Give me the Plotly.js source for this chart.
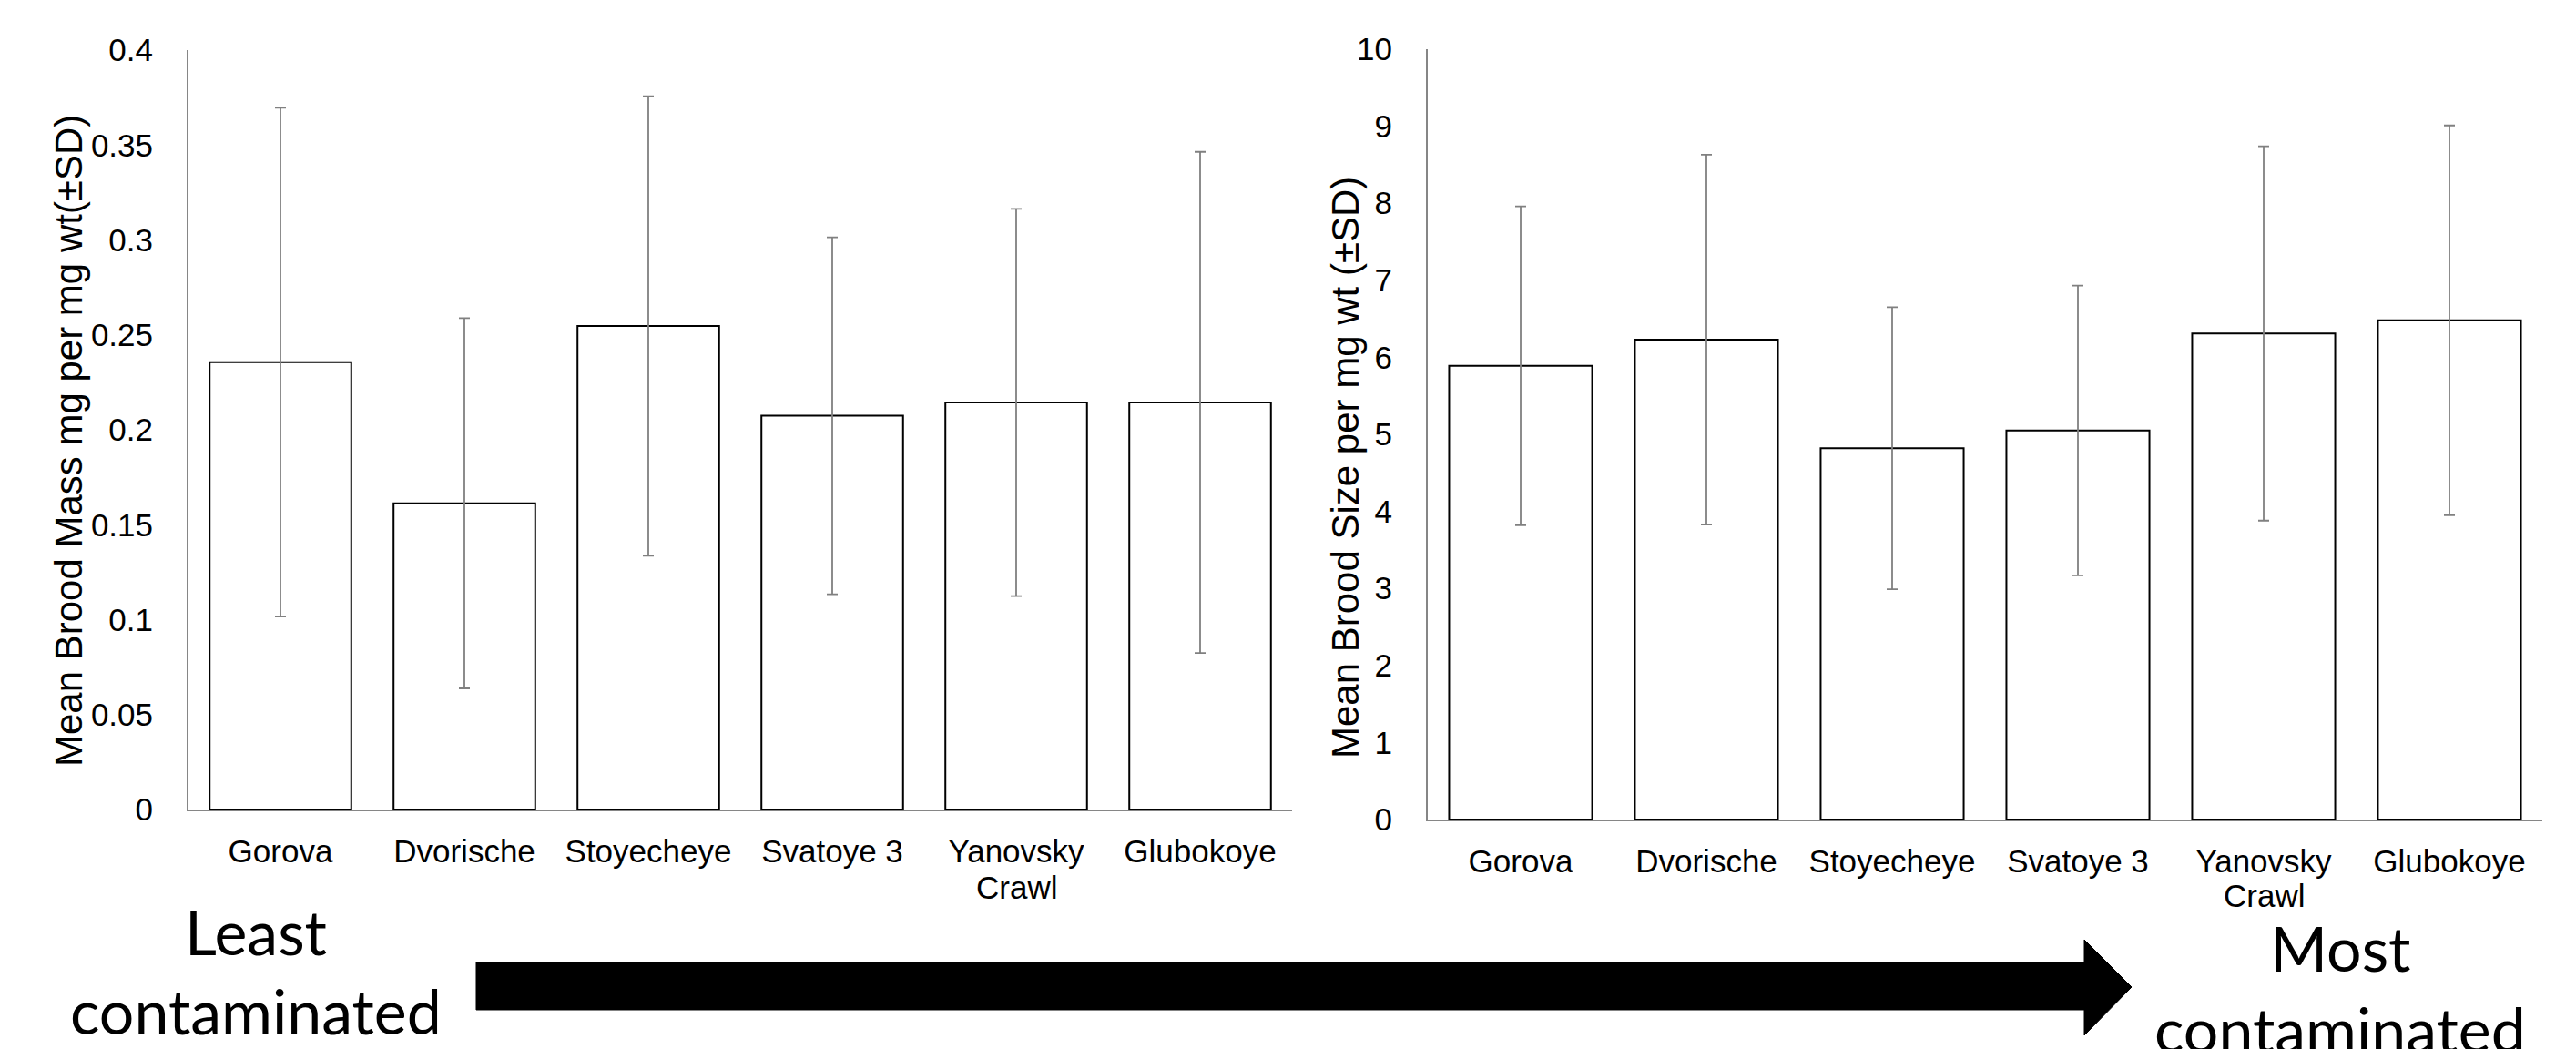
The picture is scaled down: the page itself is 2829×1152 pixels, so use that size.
<!DOCTYPE html>
<html>
<head>
<meta charset="utf-8">
<script src="https://cdn.plot.ly/plotly-3.0.1.min.js"></script>
<style>html,body{margin:0;padding:0;background:#fff;}#chart{width:2829px;height:1152px;}</style>
</head>
<body>
<div id="chart"></div>
<script>
// ---- data ----
const sites = ["Gorova", "Dvorische", "Stoyecheye", "Svatoye 3", "Yanovsky Crawl", "Glubokoye"];
const labelLine1 = ["Gorova", "Dvorische", "Stoyecheye", "Svatoye 3", "Yanovsky", "Glubokoye"];
const labelLine2 = ["", "", "", "", "Crawl", ""];
const broodMass = [0.2356, 0.1613, 0.2547, 0.2074, 0.2144, 0.2144];
const broodMassSD = [0.134, 0.0975, 0.121, 0.094, 0.102, 0.132];
const broodSize = [5.89, 6.23, 4.82, 5.05, 6.31, 6.48];
const broodSizeSD = [2.07, 2.40, 1.83, 1.88, 2.43, 2.53];
const massTitle = "Mean Brood Mass mg per mg wt(±SD)";
const sizeTitle = "Mean Brood Size per mg wt (±SD)";
const leftLabel = ["Least", "contaminated"];
const rightLabel = ["Most", "contaminated"];

// ---- layout helpers ----
const W = 2829, H = 1152;
const px = x => x / W;
const py = y => 1 - y / H;

const tickFont = {family: "Liberation Sans, Arial, sans-serif", size: 35, color: "#000"};
const titleFont = {family: "Liberation Sans, Arial, sans-serif", size: 42, color: "#000"};
const axisGray = "#868686";
const errGray = "#808080";

function barTrace(y, sd, xa, ya) {
  return {
    type: "bar", x: sites, y: y, xaxis: xa, yaxis: ya,
    marker: {color: "#ffffff", line: {color: "#000000", width: 2}},
    error_y: {type: "data", array: sd, visible: true, color: errGray, thickness: 1.8, width: 6},
    showlegend: false, hoverinfo: "skip"
  };
}

const data = [
  barTrace(broodMass, broodMassSD, "x", "y"),
  barTrace(broodSize, broodSizeSD, "x2", "y2")
];

function xAxis(domain, anchor) {
  return {
    domain: domain, anchor: anchor, type: "category",
    categoryorder: "array", categoryarray: sites,
    tickvals: sites, ticktext: labelLine1,
    showline: true, linecolor: axisGray, linewidth: 2,
    ticks: "", showgrid: false, zeroline: false,
    tickfont: tickFont, ticklabelstandoff: 14, fixedrange: true
  };
}
function yAxis(domain, anchor, range, dtick) {
  return {
    domain: domain, anchor: anchor, range: range, dtick: dtick, tick0: 0,
    showline: true, linecolor: axisGray, linewidth: 2,
    ticks: "", showgrid: false, zeroline: false,
    tickfont: tickFont, ticklabelstandoff: 30, fixedrange: true
  };
}

const annFont = {family: "Lato, Open Sans, sans-serif", size: 68, color: "#000"};
function ann(text, x, y) {
  return {text: text, x: px(x), y: py(y), xref: "paper", yref: "paper",
          xanchor: "center", yanchor: "middle", showarrow: false, font: annFont};
}
function axTitle(text, x, y) {
  return {text: text, x: px(x), y: py(y), xref: "paper", yref: "paper", textangle: -90,
          xanchor: "center", yanchor: "middle", showarrow: false, font: titleFont};
}
// second line of two-line category labels, placed at the category on its own x axis
function secondLines(xref, y) {
  const out = [];
  sites.forEach((s, i) => {
    if (labelLine2[i]) {
      out.push({text: labelLine2[i], x: s, xref: xref, y: py(y), yref: "paper",
                xanchor: "center", yanchor: "middle", showarrow: false, font: tickFont});
    }
  });
  return out;
}

// arrow outline (pixel geometry)
const arrowPath = [
  [523, 1057], [2289, 1057], [2289, 1032], [2341, 1084],
  [2289, 1137], [2289, 1109], [523, 1109]
].map((p, i) => (i === 0 ? "M" : "L") + px(p[0]).toFixed(5) + "," + py(p[1]).toFixed(5)).join(" ") + " Z";

const layout = {
  width: W, height: H,
  margin: {l: 0, r: 0, t: 0, b: 0},
  paper_bgcolor: "#ffffff", plot_bgcolor: "#ffffff",
  bargap: 0.23,
  xaxis: xAxis([px(207), px(1419)], "y"),
  yaxis: yAxis([py(889), py(55)], "x", [0, 0.4], 0.05),
  xaxis2: xAxis([px(1568), px(2792)], "y2"),
  yaxis2: yAxis([py(900), py(54)], "x2", [0, 10], 1),
  annotations: [
    axTitle(massTitle, 76, 484), axTitle(sizeTitle, 1477, 514),
    ...secondLines("x", 974), ...secondLines("x2", 983),
    ann(leftLabel[0], 281, 1022), ann(leftLabel[1], 281, 1109),
    ann(rightLabel[0], 2570, 1040), ann(rightLabel[1], 2570, 1129)
  ],
  shapes: [{type: "path", xref: "paper", yref: "paper", path: arrowPath,
            fillcolor: "#000000", line: {color: "#000000", width: 1}}]
};

Plotly.newPlot("chart", data, layout, {staticPlot: true, displayModeBar: false});
</script>
</body>
</html>
